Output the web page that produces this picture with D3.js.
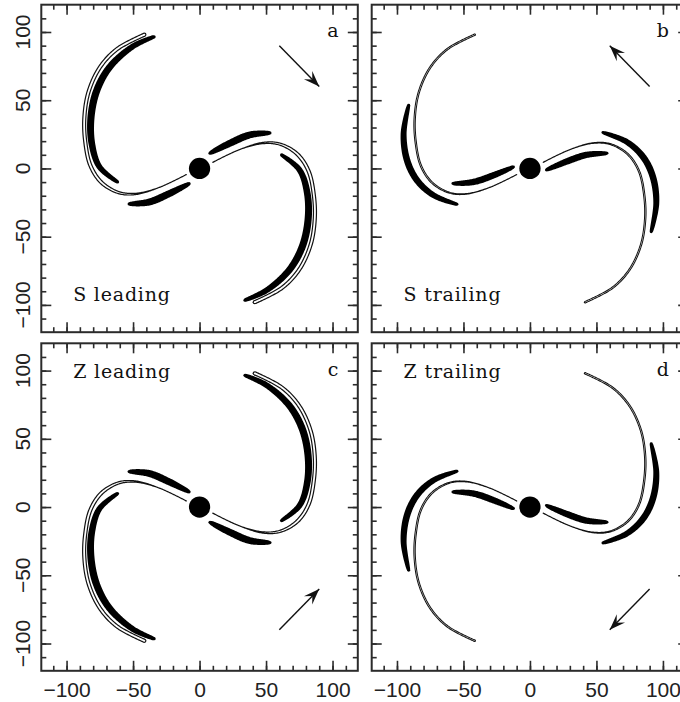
<!DOCTYPE html>
<html><head><meta charset="utf-8">
<script src="https://cdn.jsdelivr.net/npm/d3@7"></script>
<style>body{margin:0;background:#fff}svg{display:block}</style>
</head><body><svg id="chart" width="680" height="702"></svg>
<script>
// ---------------- data ----------------
const panelLetters = ["a", "b", "c", "d"];
const panelTitles = ["S leading", "S trailing", "Z leading", "Z trailing"];
const tickLabels = [-100, -50, 0, 50, 100];
const minorTickValues = [-110, -100, -90, -80, -70, -60, -50, -40, -30, -20, -10, 0, 10, 20, 30, 40, 50, 60, 70, 80, 90, 100, 110];
// gas arm (thin outlined curve), one arm of the S; the other arm is its point reflection
const gasArm = [[10, 4.5], [30, 13.8], [47.5, 18.6], [60.5, 17.8], [73.5, 10.5], [82, -2], [86, -20], [86.6, -37.5], [83.5, -56], [75, -74], [62, -87.5], [41.5, -98]];
// dense (thick) lanes
const leadingInner = [[7.9, 11.2], [22.9, 18.5], [37.9, 24.6], [52.9, 26]];
const leadingOuter = [[61.7, 9.9], [75.2, -1.1], [81, -18.2], [81.6, -37.8], [77.2, -57.4], [67.4, -74.5], [50.2, -89.4], [34.2, -96.5]];
const trailingInner = [[12.4, -1.1], [27.4, 5], [42.4, 9.9], [57.9, 11.1]];
const trailingOuter = [[54.9, 26.3], [72.4, 19.7], [84.9, 8.7], [92.4, -6], [95, -25.5], [91.2, -46.4]];
// rotation arrows
const arrowLeading = [[60, 90], [90, 60]];
const arrowTrailing = [[90, 60], [60, 90]];
const nucleusRadius = 8;

// ---------------- layout ----------------
const svg = d3.select("#chart");
const colX = [41.3, 371.7], rowY = [4.7, 343.3], pw = 316.5, ph = 327.5;
const xDomain = [-119, 119], yDomain = [-120, 120];

const panels = [
  {col: 0, row: 0, mirror: false, bands: [leadingInner, leadingOuter], arrow: arrowLeading, titleY: -97.2, yLabels: true, xLabels: false, tubeMax: 4.2, tubeCore: 2.4, bandMax: 7.2},
  {col: 1, row: 0, mirror: false, bands: [trailingInner, trailingOuter], arrow: arrowTrailing, titleY: -97.2, yLabels: false, xLabels: false, tubeMax: 2.4, tubeCore: 2.0, bandMax: 6.6},
  {col: 0, row: 1, mirror: true, bands: [leadingInner, leadingOuter], arrow: arrowLeading, titleY: 94.5, yLabels: true, xLabels: true, tubeMax: 4.2, tubeCore: 2.4, bandMax: 7.2},
  {col: 1, row: 1, mirror: true, bands: [trailingInner, trailingOuter], arrow: arrowTrailing, titleY: 94.5, yLabels: false, xLabels: true, tubeMax: 2.4, tubeCore: 2.0, bandMax: 6.6}
];

const fmt = d3.format("d");

function sampleCurve(pts) {
  const tmp = svg.append("path").attr("fill", "none")
    .attr("d", d3.line().curve(d3.curveCatmullRom.alpha(0.5))(pts));
  const node = tmp.node();
  const L = node.getTotalLength();
  const n = Math.max(2, Math.ceil(L / 1.0));
  const out = [];
  for (let i = 0; i <= n; i++) {
    const q = node.getPointAtLength(L * i / n);
    out.push([q.x, q.y]);
  }
  tmp.remove();
  return out;
}

function ribbon(samples, wf) {
  const n = samples.length, left = [], right = [];
  for (let i = 0; i < n; i++) {
    const p = samples[i];
    const a = samples[Math.max(0, i - 1)], b = samples[Math.min(n - 1, i + 1)];
    const dx = b[0] - a[0], dy = b[1] - a[1];
    const len = Math.hypot(dx, dy) || 1;
    const nx = -dy / len, ny = dx / len;
    const w = Math.max(0, wf(i / (n - 1), p)) / 2;
    left.push([p[0] + nx * w, p[1] + ny * w]);
    right.push([p[0] - nx * w, p[1] - ny * w]);
  }
  return left.concat(right.reverse());
}

function drawRibbon(g, samples, wf, color) {
  g.append("path").attr("d", d3.line()(ribbon(samples, wf)) + "Z").attr("fill", color);
  const w0 = wf(0, samples[0]), w1 = wf(1, samples[samples.length - 1]);
  if (w0 > 0) g.append("circle").attr("cx", samples[0][0]).attr("cy", samples[0][1]).attr("r", w0 / 2).attr("fill", color);
  if (w1 > 0) g.append("circle").attr("cx", samples[samples.length - 1][0]).attr("cy", samples[samples.length - 1][1]).attr("r", w1 / 2).attr("fill", color);
}

panels.forEach((p, i) => {
  const x0 = colX[p.col], y0 = rowY[p.row];
  const x = d3.scaleLinear().domain(xDomain).range([x0, x0 + pw]);
  const y = d3.scaleLinear().domain(yDomain).range([y0 + ph, y0]);
  const g = svg.append("g");
  const orient = p.mirror ? (d => [d[0], -d[1]]) : (d => d);
  const arms = [d => orient(d), d => orient([-d[0], -d[1]])];
  const toPx = d => [x(d[0]), y(d[1])];
  const radiusOf = s => Math.hypot(x.invert(s[0]), y.invert(s[1]));

  // thin gas curve (outlined tube)
  const tubeW = s => {
    const r = radiusOf(s);
    const t = Math.max(0, Math.min(1, (r - 35) / 40));
    return 1.2 + (p.tubeMax - 1.2) * t;
  };
  arms.forEach(a => {
    const samples = sampleCurve(gasArm.map(a).map(toPx));
    drawRibbon(g, samples, (t, s) => tubeW(s), "#111");
    drawRibbon(g, samples, (t, s) => tubeW(s) - p.tubeCore, "#fff");
  });

  // thick dense lanes
  arms.forEach(a => {
    p.bands.forEach(band => {
      const samples = sampleCurve(band.map(a).map(toPx));
      const wMin = p.bandMax * 0.45;
      drawRibbon(g, samples, t => wMin + (p.bandMax - wMin) * Math.pow(Math.sin(Math.PI * t), 0.5), "#000");
    });
  });

  // nucleus
  g.append("circle").attr("cx", x(0)).attr("cy", y(0))
    .attr("r", x(nucleusRadius) - x(0)).attr("fill", "#000");

  // arrow
  const ap = p.arrow.map(orient).map(toPx);
  g.append("line").attr("x1", ap[0][0]).attr("y1", ap[0][1]).attr("x2", ap[1][0]).attr("y2", ap[1][1])
    .attr("stroke", "#111").attr("stroke-width", 1.4);
  {
    const dx = ap[1][0] - ap[0][0], dy = ap[1][1] - ap[0][1], len = Math.hypot(dx, dy);
    const ux = dx / len, uy = dy / len, nx = -uy, ny = ux;
    const L = 16, hw = 5.8, tip = ap[1];
    const head = [
      tip,
      [tip[0] - L * ux + hw * nx, tip[1] - L * uy + hw * ny],
      [tip[0] - 0.62 * L * ux, tip[1] - 0.62 * L * uy],
      [tip[0] - L * ux - hw * nx, tip[1] - L * uy - hw * ny]
    ];
    g.append("path").attr("d", d3.line()(head) + "Z").attr("fill", "#111");
  }

  // frame and ticks
  g.append("rect").attr("x", x0).attr("y", y0).attr("width", pw).attr("height", ph)
    .attr("fill", "none").attr("stroke", "#2b2b2b").attr("stroke-width", 2);
  [[tickLabels, 10], [minorTickValues, 5]].forEach(([vals, len]) => {
    g.append("g").attr("transform", `translate(0,${y0 + ph})`)
      .call(d3.axisBottom(x).tickValues(vals).tickSize(-len).tickSizeOuter(0).tickFormat(""));
    g.append("g").attr("transform", `translate(0,${y0})`)
      .call(d3.axisTop(x).tickValues(vals).tickSize(-len).tickSizeOuter(0).tickFormat(""));
    g.append("g").attr("transform", `translate(${x0},0)`)
      .call(d3.axisLeft(y).tickValues(vals).tickSize(-len).tickSizeOuter(0).tickFormat(""));
    g.append("g").attr("transform", `translate(${x0 + pw},0)`)
      .call(d3.axisRight(y).tickValues(vals).tickSize(-len).tickSizeOuter(0).tickFormat(""));
  });
  g.selectAll(".domain").remove();
  g.selectAll(".tick line").attr("stroke", "#2b2b2b").attr("stroke-width", 1.6);

  // tick labels
  if (p.xLabels) {
    const ax = g.append("g").attr("transform", `translate(0,${y0 + ph})`)
      .call(d3.axisBottom(x).tickValues(tickLabels).tickSize(0).tickPadding(11.4).tickFormat(fmt));
    ax.select(".domain").remove();
    ax.selectAll("text").attr("font-family", "'Liberation Sans', Arial, sans-serif")
      .attr("font-size", 21).attr("fill", "#222");
  }
  if (p.yLabels) {
    g.selectAll("text.ylab").data(tickLabels).join("text").attr("class", "ylab")
      .attr("transform", d => `translate(${x0 - 11},${y(d)}) rotate(-90)`)
      .attr("text-anchor", "middle")
      .attr("font-family", "'Liberation Sans', Arial, sans-serif")
      .attr("font-size", 21).attr("fill", "#222")
      .text(fmt);
  }

  // panel letter and title
  g.append("text").attr("x", x(104.5)).attr("y", y(96)).attr("text-anchor", "end")
    .attr("font-family", "'DejaVu Serif', serif").attr("font-size", 19).attr("fill", "#111")
    .text(panelLetters[i]);
  g.append("text").attr("x", x(-95)).attr("y", y(p.titleY))
    .attr("font-family", "'DejaVu Serif', serif").attr("font-size", 19).attr("fill", "#111")
    .attr("letter-spacing", "0.8px")
    .text(panelTitles[i]);
});
</script>
</body></html>
